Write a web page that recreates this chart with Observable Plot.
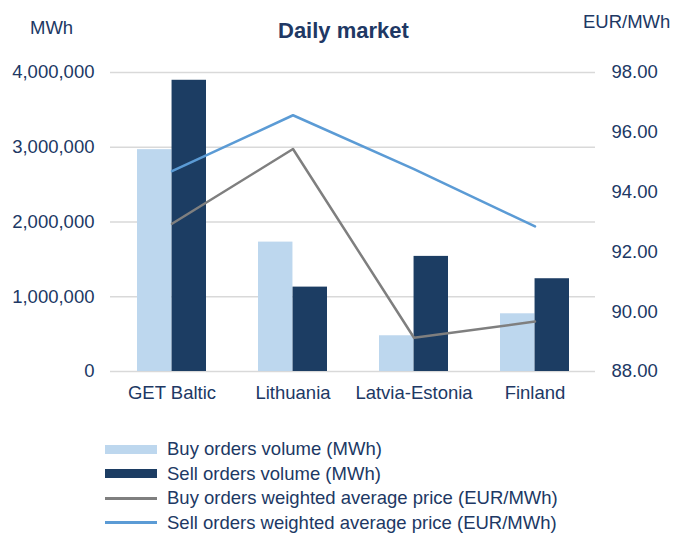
<!DOCTYPE html>
<html>
<head>
<meta charset="utf-8">
<script src="https://cdn.jsdelivr.net/npm/d3@7"></script>
<script src="https://cdn.jsdelivr.net/npm/@observablehq/plot@0.6"></script>
<style>
  body { margin: 0; background: #fff; font-family: "Liberation Sans", Arial, sans-serif; }
  #wrap { position: relative; width: 675px; height: 535px; overflow: hidden; }
  .lbl { position: absolute; color: #203864; font-size: 18.5px; white-space: nowrap; }
  #legend { position: absolute; left: 105px; top: 437px; color: #203864; font-size: 18.5px; }
  .row { height: 24.5px; display: flex; align-items: center; line-height: 20px; }
  .sw { width: 52px; margin-right: 10px; }
</style>
</head>
<body>
<div id="wrap">
  <div class="lbl" style="left:30px; top:17px;">MWh</div>
  <div class="lbl" style="left:278px; top:18px; font-weight:bold; font-size:22px;">Daily market</div>
  <div class="lbl" style="left:583px; top:11px;">EUR/MWh</div>
  <div id="chart"></div>
  <div id="legend"></div>
</div>
<script>
const categories = ["GET Baltic", "Lithuania", "Latvia-Estonia", "Finland"];
const buyVolume = [2968000, 1731000, 478000, 772000];
const sellVolume = [3896000, 1129000, 1540000, 1241000];
const buyPrice = [92.94, 95.44, 89.13, 89.67];
const sellPrice = [94.70, 96.57, 94.77, 92.85];
const volumeTicks = [0, 1000000, 2000000, 3000000, 4000000];
const priceTicks = [88, 90, 92, 94, 96, 98];

const seriesNames = [
  "Buy orders volume (MWh)",
  "Sell orders volume (MWh)",
  "Buy orders weighted average price (EUR/MWh)",
  "Sell orders weighted average price (EUR/MWh)"
];
const colors = ["#bdd7ee", "#1c3d63", "#7f7f7f", "#5b9bd5"];

const pMin = 88, pMax = 98, vMax = 4000000;
const toV = p => (p - pMin) / (pMax - pMin) * vMax;
const fromV = v => pMin + v / vMax * (pMax - pMin);

const data = categories.map((c, i) => ({
  cat: c, buyV: buyVolume[i], sellV: sellVolume[i], buyP: buyPrice[i], sellP: sellPrice[i]
}));

const W = 675, H = 410, mL = 110, mR = 80, mT = 72, mB = 39;
const pi = 0.43, po = 0.215;
const step = (W - mL - mR) / (categories.length - pi + 2 * po);
const bw = step * (1 - pi);

const plot = Plot.plot({
  width: W, height: H,
  marginLeft: mL, marginRight: mR, marginTop: mT, marginBottom: mB,
  style: { fontFamily: "Liberation Sans, Arial, sans-serif", fontSize: "18.5px", color: "#203864", background: "#fff" },
  x: { domain: categories, paddingInner: pi, paddingOuter: po, label: null },
  y: { domain: [0, vMax], label: null },
  marks: [
    Plot.gridY(volumeTicks, { stroke: "#d9d9d9", strokeOpacity: 1, strokeWidth: 1.5 }),
    Plot.barY(data, { x: "cat", y: "buyV", fill: colors[0], insetRight: bw / 2 }),
    Plot.barY(data, { x: "cat", y: "sellV", fill: colors[1], insetLeft: bw / 2 }),
    Plot.line(data, { x: "cat", y: d => toV(d.buyP), stroke: colors[2], strokeWidth: 2.5 }),
    Plot.line(data, { x: "cat", y: d => toV(d.sellP), stroke: colors[3], strokeWidth: 2.5 }),
    Plot.axisY(volumeTicks, { anchor: "left", tickSize: 0, tickPadding: 16, tickFormat: d3.format(","), label: null, fill: "#203864" }),
    Plot.axisY(priceTicks.map(toV), { anchor: "right", tickSize: 0, tickPadding: 16, tickFormat: v => fromV(v).toFixed(2), label: null, fill: "#203864" }),
    Plot.axisX({ anchor: "bottom", tickSize: 0, tickPadding: 14, label: null, fill: "#203864" })
  ]
});
document.getElementById("chart").appendChild(plot);

const legend = document.getElementById("legend");
seriesNames.forEach((name, i) => {
  const row = document.createElement("div");
  row.className = "row";
  const sw = document.createElement("div");
  sw.className = "sw";
  sw.style.background = colors[i];
  sw.style.height = i < 2 ? "9px" : "3px";
  const t = document.createElement("span");
  t.textContent = name;
  row.appendChild(sw);
  row.appendChild(t);
  legend.appendChild(row);
});
</script>
</body>
</html>
